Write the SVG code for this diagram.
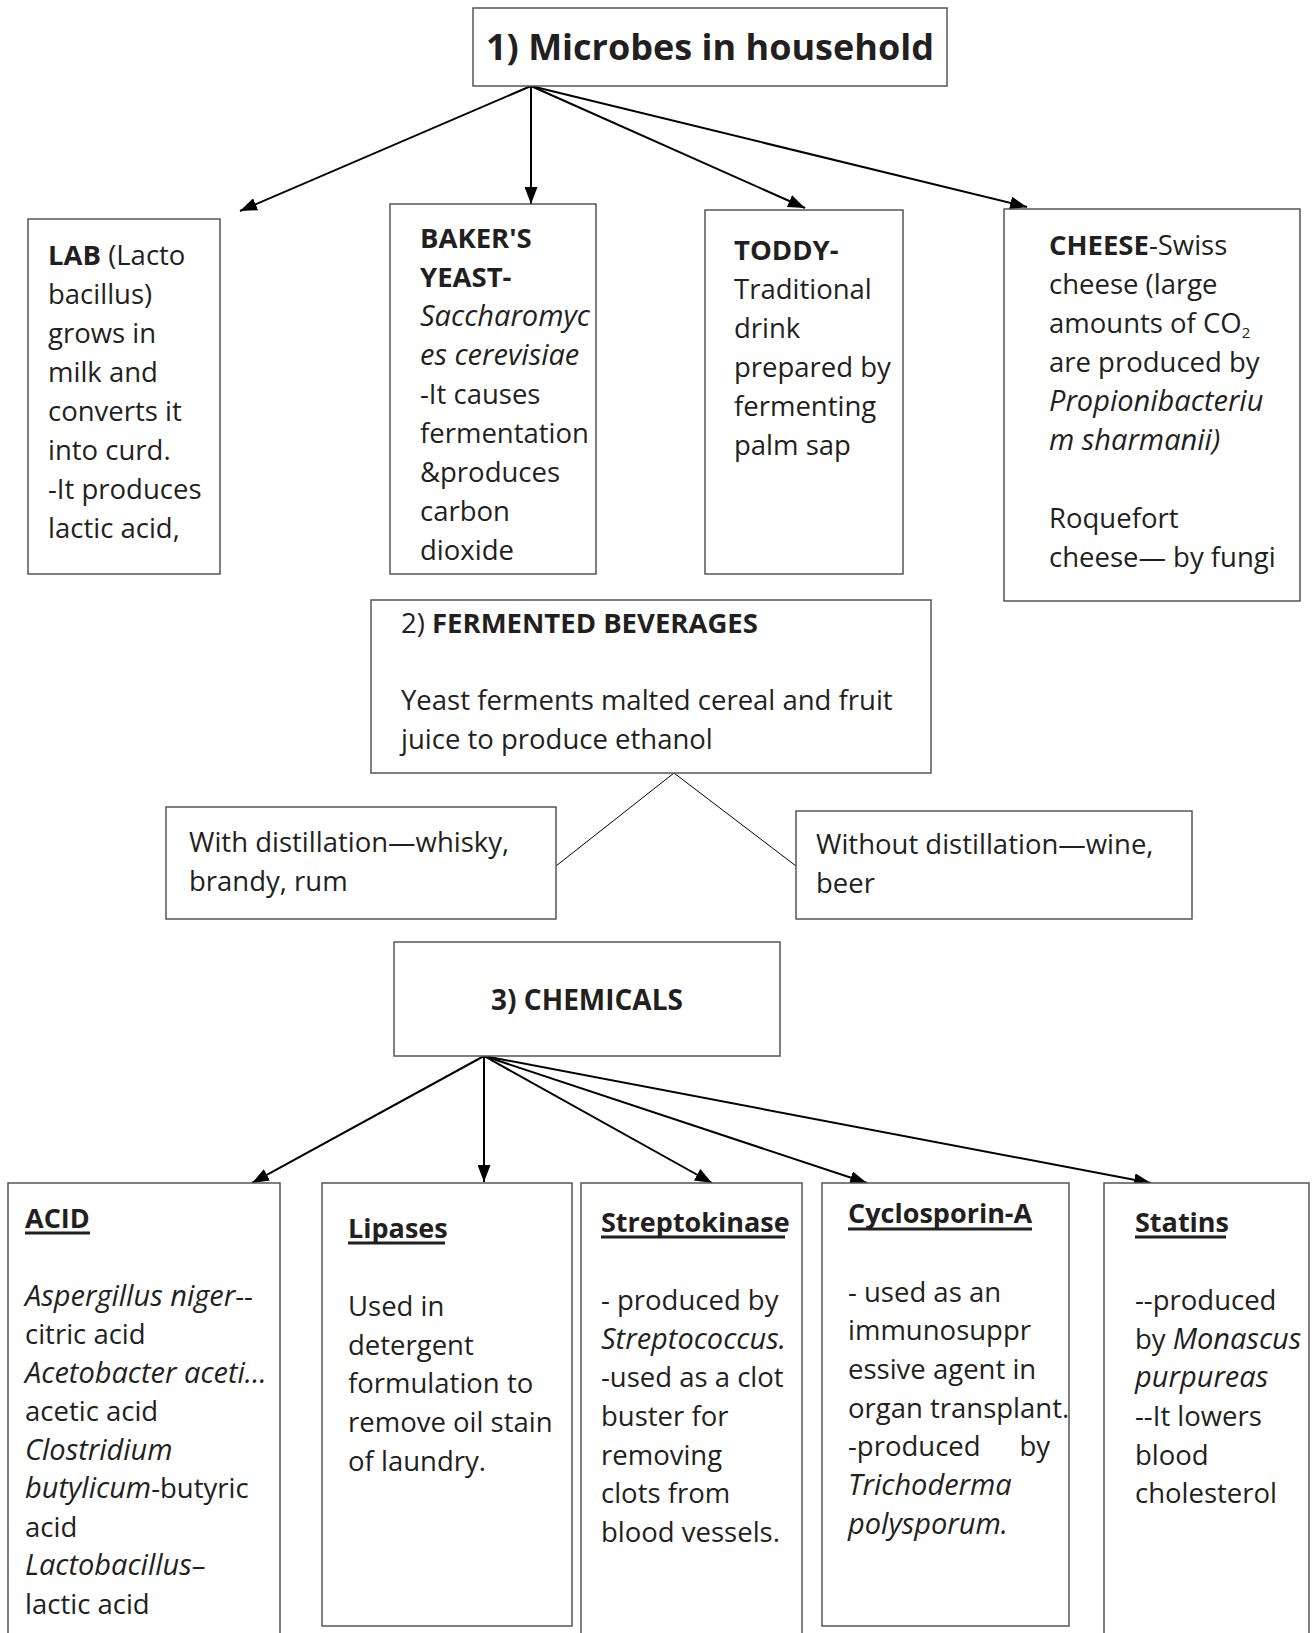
<svg xmlns="http://www.w3.org/2000/svg" width="1312" height="1633" viewBox="0 0 1312 1633">
  <style>
    .box { fill: #ffffff; stroke: #555555; stroke-width: 1.5; }
    .t { font-family: "Open Sans", "Liberation Sans", sans-serif; font-size: 27.5px; fill: #231f20; }
    .b { font-weight: bold; }
    .i { font-style: italic; font-size: 29px; }
    .h { font-family: "Open Sans", "Liberation Sans", sans-serif; font-size: 27px; font-weight: bold; fill: #231f20; }
    .ul { stroke: #231f20; stroke-width: 3; }
    .arrow { stroke: #000000; stroke-width: 2; fill: none; marker-end: url(#ah); }
    .thin { stroke: #000000; stroke-width: 1; fill: none; }
  </style>
  <defs>
    <marker id="ah" markerWidth="17" markerHeight="13" refX="17" refY="6.5" orient="auto" markerUnits="userSpaceOnUse">
      <path d="M0,0 L17,6.5 L0,13 z" fill="#000000"/>
    </marker>
  </defs>
  <rect width="1312" height="1633" fill="#ffffff"/>

  <!-- connectors -->
  <g id="connectors">
    <line class="arrow" x1="531" y1="86" x2="240" y2="211"/>
    <line class="arrow" x1="531" y1="86" x2="531" y2="204"/>
    <line class="arrow" x1="531" y1="86" x2="805" y2="208"/>
    <line class="arrow" x1="531" y1="86" x2="1027" y2="207"/>
    <line class="thin" x1="674" y1="773" x2="556" y2="866"/>
    <line class="thin" x1="674" y1="773" x2="796" y2="866"/>
    <line class="arrow" x1="484" y1="1056" x2="252" y2="1183"/>
    <line class="arrow" x1="484" y1="1056" x2="484" y2="1182"/>
    <line class="arrow" x1="484" y1="1056" x2="712" y2="1183"/>
    <line class="arrow" x1="484" y1="1056" x2="867" y2="1183"/>
    <line class="arrow" x1="484" y1="1056" x2="1151" y2="1183"/>
  </g>

  <!-- 1) Microbes in household -->
  <g id="household">
    <rect class="box" x="473" y="8" width="474" height="78"/>
    <text class="t b" x="710" y="60" text-anchor="middle" style="font-size:36px">1) Microbes in household</text>
  </g>

  <g id="lab">
    <rect class="box" x="28" y="219" width="192" height="355"/>
    <text class="t" x="48">
      <tspan x="48" y="265"><tspan class="b">LAB</tspan> (Lacto</tspan>
      <tspan x="48" y="304">bacillus)</tspan>
      <tspan x="48" y="343">grows in</tspan>
      <tspan x="48" y="382">milk and</tspan>
      <tspan x="48" y="421">converts it</tspan>
      <tspan x="48" y="460">into curd.</tspan>
      <tspan x="48" y="499">-It produces</tspan>
      <tspan x="48" y="538">lactic acid,</tspan>
    </text>
  </g>

  <g id="bakers-yeast">
    <rect class="box" x="390" y="204" width="206" height="370"/>
    <text class="t" x="420">
      <tspan class="b" x="420" y="248">BAKER'S</tspan>
      <tspan class="b" x="420" y="287">YEAST-</tspan>
      <tspan class="i" x="420" y="326">Saccharomyc</tspan>
      <tspan class="i" x="420" y="365">es cerevisiae</tspan>
      <tspan x="420" y="404">-It causes</tspan>
      <tspan x="420" y="443">fermentation</tspan>
      <tspan x="420" y="482">&amp;produces</tspan>
      <tspan x="420" y="521">carbon</tspan>
      <tspan x="420" y="560">dioxide</tspan>
    </text>
  </g>

  <g id="toddy">
    <rect class="box" x="705" y="210" width="198" height="364"/>
    <text class="t" x="734">
      <tspan class="b" x="734" y="260">TODDY-</tspan>
      <tspan x="734" y="299">Traditional</tspan>
      <tspan x="734" y="338">drink</tspan>
      <tspan x="734" y="377">prepared by</tspan>
      <tspan x="734" y="416">fermenting</tspan>
      <tspan x="734" y="455">palm sap</tspan>
    </text>
  </g>

  <g id="cheese">
    <rect class="box" x="1004" y="209" width="296" height="392"/>
    <text class="t" x="1049">
      <tspan x="1049" y="255"><tspan class="b">CHEESE</tspan>-Swiss</tspan>
      <tspan x="1049" y="294">cheese (large</tspan>
      <tspan x="1049" y="333">amounts of CO<tspan style="font-size:15px" dy="5">2</tspan></tspan>
      <tspan x="1049" y="372">are produced by</tspan>
      <tspan class="i" x="1049" y="411">Propionibacteriu</tspan>
      <tspan class="i" x="1049" y="450">m sharmanii)</tspan>
      <tspan x="1049" y="528">Roquefort</tspan>
      <tspan x="1049" y="567">cheese— by fungi</tspan>
    </text>
  </g>

  <!-- 2) Fermented beverages -->
  <g id="fermented-beverages">
    <rect class="box" x="371" y="600" width="560" height="173"/>
    <text class="t" x="401">
      <tspan x="401" y="633">2) <tspan class="b">FERMENTED BEVERAGES</tspan></tspan>
      <tspan x="401" y="710">Yeast ferments malted cereal and fruit</tspan>
      <tspan x="401" y="749">juice to produce ethanol</tspan>
    </text>
  </g>

  <g id="with-distillation">
    <rect class="box" x="166" y="807" width="390" height="112"/>
    <text class="t" x="189">
      <tspan x="189" y="852">With distillation—whisky,</tspan>
      <tspan x="189" y="891">brandy, rum</tspan>
    </text>
  </g>

  <g id="without-distillation">
    <rect class="box" x="796" y="811" width="396" height="108"/>
    <text class="t" x="816">
      <tspan x="816" y="854">Without distillation—wine,</tspan>
      <tspan x="816" y="893">beer</tspan>
    </text>
  </g>

  <!-- 3) Chemicals -->
  <g id="chemicals">
    <rect class="box" x="394" y="942" width="386" height="114"/>
    <text class="h" x="587" y="1010" text-anchor="middle" style="font-size:28px">3) CHEMICALS</text>
  </g>

  <g id="acid">
    <rect class="box" x="8" y="1183" width="272" height="470"/>
    <text class="h" x="25" y="1228">ACID</text>
    <line class="ul" x1="25" y1="1233" x2="90" y2="1233"/>
    <text class="t" x="25">
      <tspan x="25" y="1306"><tspan class="i">Aspergillus niger</tspan>--</tspan>
      <tspan x="25" y="1344">citric acid</tspan>
      <tspan class="i" x="25" y="1383">Acetobacter aceti…</tspan>
      <tspan x="25" y="1421">acetic acid</tspan>
      <tspan class="i" x="25" y="1460">Clostridium</tspan>
      <tspan x="25" y="1498"><tspan class="i">butylicum</tspan>-butyric</tspan>
      <tspan x="25" y="1537">acid</tspan>
      <tspan x="25" y="1575"><tspan class="i">Lactobacillus</tspan>–</tspan>
      <tspan x="25" y="1614">lactic acid</tspan>
    </text>
  </g>

  <g id="lipases">
    <rect class="box" x="322" y="1183" width="250" height="443"/>
    <text class="h" x="348" y="1238">Lipases</text>
    <line class="ul" x1="348" y1="1243" x2="445" y2="1243"/>
    <text class="t" x="348">
      <tspan x="348" y="1316">Used in</tspan>
      <tspan x="348" y="1355">detergent</tspan>
      <tspan x="348" y="1393">formulation to</tspan>
      <tspan x="348" y="1432">remove oil stain</tspan>
      <tspan x="348" y="1471">of laundry.</tspan>
    </text>
  </g>

  <g id="streptokinase">
    <rect class="box" x="581" y="1183" width="221" height="470"/>
    <text class="h" x="601" y="1232">Streptokinase</text>
    <line class="ul" x1="601" y1="1237" x2="785" y2="1237"/>
    <text class="t" x="601">
      <tspan x="601" y="1310">- produced by</tspan>
      <tspan class="i" x="601" y="1349">Streptococcus.</tspan>
      <tspan x="601" y="1387">-used as a clot</tspan>
      <tspan x="601" y="1426">buster for</tspan>
      <tspan x="601" y="1465">removing</tspan>
      <tspan x="601" y="1503">clots from</tspan>
      <tspan x="601" y="1542">blood vessels.</tspan>
    </text>
  </g>

  <g id="cyclosporin-a">
    <rect class="box" x="822" y="1183" width="247" height="443"/>
    <text class="h" x="848" y="1223">Cyclosporin-A</text>
    <line class="ul" x1="848" y1="1229" x2="1032" y2="1229"/>
    <text class="t" x="848">
      <tspan x="848" y="1302">- used as an</tspan>
      <tspan x="848" y="1340">immunosuppr</tspan>
      <tspan x="848" y="1379">essive agent in</tspan>
      <tspan x="848" y="1418">organ transplant.</tspan>
      <tspan x="848" y="1456">-produced</tspan>
      <tspan class="i" x="848" y="1495">Trichoderma</tspan>
      <tspan class="i" x="848" y="1534">polysporum.</tspan>
    </text>
    <text class="t" x="1050" y="1456" text-anchor="end">by</text>
  </g>

  <g id="statins">
    <rect class="box" x="1104" y="1183" width="205" height="470"/>
    <text class="h" x="1135" y="1232">Statins</text>
    <line class="ul" x1="1135" y1="1237" x2="1226" y2="1237"/>
    <text class="t" x="1135">
      <tspan x="1135" y="1310">--produced</tspan>
      <tspan x="1135" y="1349">by <tspan class="i">Monascus</tspan></tspan>
      <tspan class="i" x="1135" y="1387">purpureas</tspan>
      <tspan x="1135" y="1426">--It lowers</tspan>
      <tspan x="1135" y="1465">blood</tspan>
      <tspan x="1135" y="1503">cholesterol</tspan>
    </text>
  </g>
</svg>
